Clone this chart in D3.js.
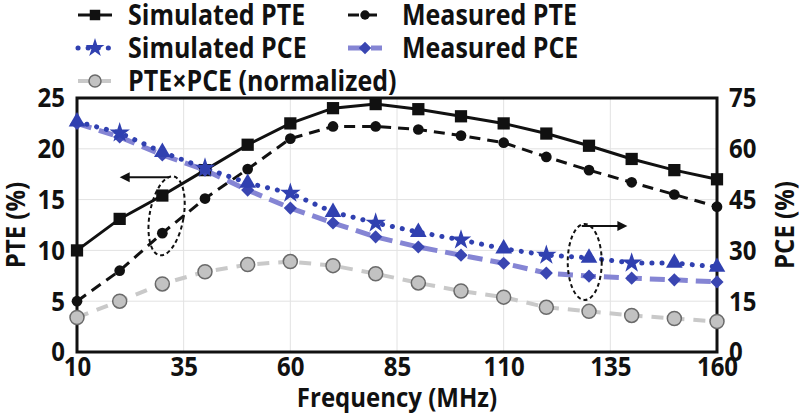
<!DOCTYPE html>
<html>
<head>
<meta charset="utf-8">
<script src="https://cdn.jsdelivr.net/npm/d3@7"></script>
<style>
body { margin: 0; background: #fff; }
svg text { font-family: "Open Sans", sans-serif; font-weight: bold; fill: #111; }
</style>
</head>
<body>
<svg width="800" height="419"></svg>
<script>
var screen = {width: 800, height: 419}
var margin = {top: 98, right: 83, bottom: 67, left: 77};
var stretch = 1.15   // text in the figure is a bit taller than wide

// frequency points (MHz)
var freq = [10, 20, 30, 40, 50, 60, 70, 80, 90, 100, 110, 120, 130, 140, 150, 160]

// left axis series (%)
var simPTE = [10.0, 13.1, 15.4, 17.9, 20.4, 22.5, 24.0, 24.4, 23.9, 23.2, 22.5, 21.5, 20.3, 19.0, 17.9, 17.0]
var measPTE = [5.0, 8.0, 11.7, 15.1, 18.0, 21.0, 22.2, 22.2, 21.9, 21.3, 20.6, 19.2, 17.9, 16.7, 15.5, 14.3]
var product = [3.4, 5.0, 6.7, 7.9, 8.6, 8.9, 8.5, 7.7, 6.8, 6.0, 5.4, 4.4, 4.0, 3.6, 3.3, 3.0]

// right axis series (%)
var simPCE = [68.0, 64.7, 59.0, 54.3, 49.9, 46.9, 41.3, 38.1, 35.4, 33.1, 30.5, 28.6, 27.8, 26.3, 26.3, 25.1]
var measPCE = [67.5, 63.5, 58.2, 53.7, 47.8, 42.5, 38.1, 34.0, 31.0, 28.6, 26.2, 23.3, 22.4, 21.8, 21.3, 20.7]

var xTicks = [10, 35, 60, 85, 110, 135, 160]
var leftTicks = [0, 5, 10, 15, 20, 25]
var rightTicks = [0, 15, 30, 45, 60, 75]

var legendNames = ["Simulated PTE", "Measured PTE", "Simulated PCE", "Measured PCE", "PTE\u00d7PCE (normalized)"]

var width = screen.width - margin.left - margin.right;
var height = screen.height - margin.top - margin.bottom;

var svg = d3.select("svg")

var xScale = d3.scaleLinear().domain([10, 160]).range([margin.left, margin.left + width])
var yLeft = d3.scaleLinear().domain([0, 25]).range([margin.top + height, margin.top])
var yRight = d3.scaleLinear().domain([0, 75]).range([margin.top + height, margin.top])

// grid
var grid = svg.append("g").attr("id", "grid")
grid.selectAll(".vg").data(xTicks.slice(1, -1)).enter().append("line")
    .attr("x1", function(d) { return xScale(d) })
    .attr("x2", function(d) { return xScale(d) })
    .attr("y1", yLeft(0)).attr("y2", yLeft(25))
    .attr("stroke", "#e2e2e2").attr("stroke-width", 1)
grid.selectAll(".hg").data(leftTicks.slice(1, -1)).enter().append("line")
    .attr("y1", function(d) { return yLeft(d) })
    .attr("y2", function(d) { return yLeft(d) })
    .attr("x1", xScale(10)).attr("x2", xScale(160))
    .attr("stroke", "#e2e2e2").attr("stroke-width", 1)

// axes
var xAxis = d3.axisBottom(xScale).tickValues(xTicks).tickSize(0).tickPadding(4).tickFormat(d3.format("d"))
var yAxis1 = d3.axisLeft(yLeft).tickValues(leftTicks).tickSize(0).tickPadding(12)
var yAxis2 = d3.axisRight(yRight).tickValues(rightTicks).tickSize(0).tickPadding(12)

var axes = svg.append("g").classed("axis", true)
axes.append("g").attr("transform", "translate(0," + (margin.top + height) + ")").call(xAxis)
axes.append("g").attr("transform", "translate(" + margin.left + ",0)").call(yAxis1)
axes.append("g").attr("transform", "translate(" + (margin.left + width) + ",0)").call(yAxis2)
axes.selectAll(".domain").remove()
axes.selectAll("text").style("font-size", "24px").attr("fill", "#111")
    .attr("transform", "scale(1," + stretch + ")")

// frame
svg.append("rect")
    .attr("x", xScale(10)).attr("y", yLeft(25))
    .attr("width", xScale(160) - xScale(10)).attr("height", yLeft(0) - yLeft(25))
    .attr("fill", "none").attr("stroke", "#111").attr("stroke-width", 3)

// axis titles
svg.append("text").attr("transform", "translate(" + ((xScale(10) + xScale(160)) / 2) + ",407) scale(1," + stretch + ")")
    .attr("text-anchor", "middle").style("font-size", "24px").text("Frequency (MHz)")
svg.append("text").attr("transform", "translate(25," + (yLeft(12.5)) + ") rotate(-90) scale(1," + stretch + ")")
    .attr("text-anchor", "middle").style("font-size", "24px").text("PTE (%)")
svg.append("text").attr("transform", "translate(794," + (yLeft(12.5)) + ") rotate(-90) scale(1," + stretch + ")")
    .attr("text-anchor", "middle").style("font-size", "24px").text("PCE (%)")

// series
var pts = function(vals, ys) {
    return vals.map(function(v, i) { return [xScale(freq[i]), ys(v)] })
}
var line = d3.line()

var series = [
    {vals: simPTE, y: yLeft, stroke: "#111", w: 3, dash: null},
    {vals: measPTE, y: yLeft, stroke: "#111", w: 3, dash: "11,7"},
    {vals: product, y: yLeft, stroke: "#c9c9c9", w: 4, dash: "12,9"},
    {vals: measPCE, y: yRight, stroke: "#8585d4", w: 5, dash: "15,8"},
    {vals: simPCE, y: yRight, stroke: "#3040b0", w: 5, dash: "0.1,10"}
]
series.forEach(function(s) {
    svg.append("path")
        .attr("d", line(pts(s.vals, s.y)))
        .attr("fill", "none").attr("stroke", s.stroke)
        .attr("stroke-width", s.w)
        .attr("stroke-dasharray", s.dash)
        .attr("stroke-linecap", s.dash && s.dash.indexOf("0.1") == 0 ? "round" : "butt")
})

var sym = function(type, size) { return d3.symbol().type(type).size(size)() }

// markers
svg.append("g").selectAll("path").data(simPTE).enter().append("path")
    .attr("transform", function(d, i) { return "translate(" + xScale(freq[i]) + "," + yLeft(d) + ")" })
    .attr("d", sym(d3.symbolSquare, 150)).attr("fill", "#111")
svg.append("g").selectAll("path").data(measPTE).enter().append("path")
    .attr("transform", function(d, i) { return "translate(" + xScale(freq[i]) + "," + yLeft(d) + ")" })
    .attr("d", sym(d3.symbolCircle, 90)).attr("fill", "#111")
svg.append("g").selectAll("circle").data(product).enter().append("circle")
    .attr("cx", function(d, i) { return xScale(freq[i]) })
    .attr("cy", function(d) { return yLeft(d) })
    .attr("r", 7).attr("fill", "#c2c2c2").attr("stroke", "#6a6a6a").attr("stroke-width", 1.5)
svg.append("g").selectAll("path").data(measPCE).enter().append("path")
    .attr("transform", function(d, i) { return "translate(" + xScale(freq[i]) + "," + yRight(d) + ")" })
    .attr("d", sym(d3.symbolDiamond2 || d3.symbolDiamond, 110)).attr("fill", "#3a46b2")
svg.append("g").selectAll("path").data(simPCE).enter().append("path")
    .attr("transform", function(d, i) { return "translate(" + xScale(freq[i]) + "," + yRight(d) + ")" })
    .attr("d", function(d, i) { return i % 2 == 1 && i < 15 ? sym(d3.symbolStar, 130) : sym(d3.symbolTriangle, 120) })
    .attr("fill", "#3040b0")

// annotations: dashed ellipses with arrows
var ann = svg.append("g").attr("fill", "none").attr("stroke", "#111")
ann.append("ellipse")
    .attr("transform", "translate(" + xScale(31) + "," + yLeft(13.4) + ") rotate(10)")
    .attr("rx", 17).attr("ry", 40).attr("stroke-width", 2).attr("stroke-dasharray", "4,3")
ann.append("line").attr("x1", xScale(31.5)).attr("x2", xScale(21)).attr("y1", yLeft(17.2)).attr("y2", yLeft(17.2)).attr("stroke-width", 2)
ann.append("path").attr("d", "M" + xScale(20) + "," + yLeft(17.2) + "l10,-5l0,10z").attr("fill", "#111").attr("stroke", "none")

ann.append("ellipse")
    .attr("transform", "translate(" + xScale(129) + "," + yRight(26.6) + ")")
    .attr("rx", 17).attr("ry", 38).attr("stroke-width", 2).attr("stroke-dasharray", "4,3")
ann.append("line").attr("x1", xScale(128.3)).attr("x2", xScale(137.5)).attr("y1", yRight(37.2)).attr("y2", yRight(37.2)).attr("stroke-width", 2)
ann.append("path").attr("d", "M" + xScale(139) + "," + yRight(37.2) + "l-10,-5l0,10z").attr("fill", "#111").attr("stroke", "none")

// legend
var legend = svg.append("g").attr("id", "legend")
var legendPos = [[78, 15], [348, 15], [78, 48], [348, 48], [78, 81]]
legendNames.forEach(function(name, i) {
    var g = legend.append("g").attr("transform", "translate(" + legendPos[i][0] + "," + legendPos[i][1] + ")")
    var s = [series[0], series[1], series[4], series[3], series[2]][i]
    g.append("line").attr("x1", 0).attr("x2", 34).attr("y1", 0).attr("y2", 0)
        .attr("stroke", s.stroke).attr("stroke-width", s.w)
        .attr("stroke-dasharray", s.dash)
        .attr("stroke-linecap", i == 2 ? "round" : "butt")
    if (i == 0) g.append("path").attr("transform", "translate(17,0)").attr("d", sym(d3.symbolSquare, 110)).attr("fill", "#111")
    if (i == 1) g.append("path").attr("transform", "translate(17,0)").attr("d", sym(d3.symbolCircle, 70)).attr("fill", "#111")
    if (i == 2) g.append("path").attr("transform", "translate(17,0)").attr("d", sym(d3.symbolStar, 110)).attr("fill", "#3040b0")
    if (i == 3) g.append("path").attr("transform", "translate(17,0)").attr("d", sym(d3.symbolDiamond2 || d3.symbolDiamond, 100)).attr("fill", "#3a46b2")
    if (i == 4) g.append("circle").attr("cx", 17).attr("cy", 0).attr("r", 6).attr("fill", "#c2c2c2").attr("stroke", "#6a6a6a").attr("stroke-width", 1.5)
    g.append("text").attr("transform", "translate(" + (i % 2 == 1 ? 54 : 50) + ",0) scale(1," + stretch + ")")
        .attr("dy", "0.36em")
        .style("font-size", "25px").text(name)
})
</script>
</body>
</html>
